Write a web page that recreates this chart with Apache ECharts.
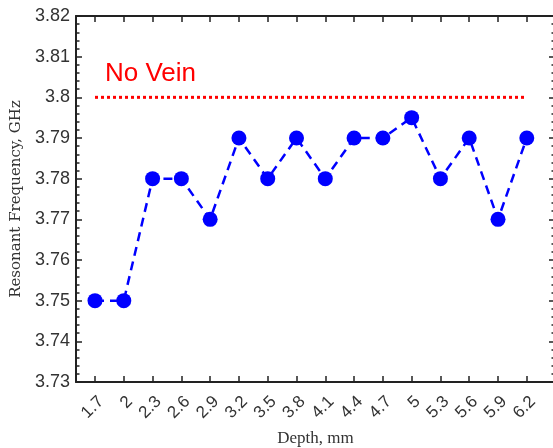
<!DOCTYPE html>
<html><head><meta charset="utf-8">
<script src="https://cdn.jsdelivr.net/npm/echarts@6/dist/echarts.min.js"></script>
<style>html,body{margin:0;padding:0;background:#fff}#c{width:553px;height:448px}</style>
</head><body><div id="c"></div>
<script>
const depths = ['1.7','2','2.3','2.6','2.9','3.2','3.5','3.8','4.1','4.4','4.7','5','5.3','5.6','5.9','6.2'];
const freq = [3.75,3.75,3.78,3.78,3.77,3.79,3.78,3.79,3.78,3.79,3.79,3.795,3.78,3.79,3.77,3.79];
const noVein = 3.80;

const idx = depths.map((d,i)=>i);
const chart = echarts.init(document.getElementById('c'));
const axisCol = '#222';
chart.setOption({
  animation:false,
  grid:{left:76,right:-2,top:16,bottom:66,containLabel:false,outerBoundsMode:'none'},
  xAxis:[{
    type:'value',min:-0.66,max:15.98,
    name:'Depth, mm',nameLocation:'middle',nameGap:48,
    nameTextStyle:{fontFamily:'Liberation Serif',fontSize:17,color:'#333'},
    axisLine:{show:true,onZero:false,lineStyle:{color:axisCol,width:2}},
    axisTick:{show:true,inside:true,length:6,customValues:idx,lineStyle:{color:axisCol,width:1.5}},
    axisLabel:{customValues:idx,rotate:45,margin:11,verticalAlign:'top',fontFamily:'Liberation Sans',fontSize:17,color:'#333',
      formatter:v=>depths[Math.round(v)]},
    splitLine:{show:false}
  },{
    type:'value',position:'top',min:-0.66,max:15.98,
    axisLine:{show:true,onZero:false,lineStyle:{color:axisCol,width:2}},
    axisTick:{show:true,inside:true,length:6,customValues:idx,lineStyle:{color:axisCol,width:1.5}},
    axisLabel:{show:false},splitLine:{show:false}
  }],
  yAxis:[{
    type:'value',min:3.73,max:3.82,interval:0.01,
    name:'Resonant Frequency, GHz',nameLocation:'middle',nameGap:49,
    nameTextStyle:{fontFamily:'DejaVu Serif',fontSize:15,color:'#333'},
    axisLine:{show:true,onZero:false,lineStyle:{color:axisCol,width:2}},
    axisTick:{show:true,inside:true,length:6,lineStyle:{color:axisCol,width:1.5}},
    minorTick:{show:true,splitNumber:5,length:3.5,lineStyle:{color:axisCol,width:1.5}},
    axisLabel:{margin:6,fontFamily:'Liberation Sans',fontSize:18,color:'#333',
      formatter:v=>String(Math.round(v*100)/100)},
    splitLine:{show:false}
  },{
    type:'value',position:'right',min:3.73,max:3.82,interval:0.01,
    axisLine:{show:true,onZero:false,lineStyle:{color:axisCol,width:2}},
    axisTick:{show:true,inside:true,length:6,lineStyle:{color:axisCol,width:1.5}},
    minorTick:{show:true,splitNumber:5,length:3.5,lineStyle:{color:axisCol,width:1.5}},
    axisLabel:{show:false},splitLine:{show:false}
  }],
  series:[{
    type:'line',data:[[0,noVein],[depths.length-1,noVein]],symbol:'none',
    lineStyle:{color:'#ff0000',width:3,type:[3,3]},silent:true
  },{
    type:'line',data:freq.map((v,i)=>[i,v]),symbol:'circle',symbolSize:15,
    itemStyle:{color:'#0000ff'},
    lineStyle:{color:'#0000ff',width:2.5,type:[9,6]}
  }],
  graphic:[{type:'text',left:105,top:61,style:{text:'No Vein',fill:'#ff0000',font:'26px "Liberation Sans"'}}]
});
</script></body></html>
